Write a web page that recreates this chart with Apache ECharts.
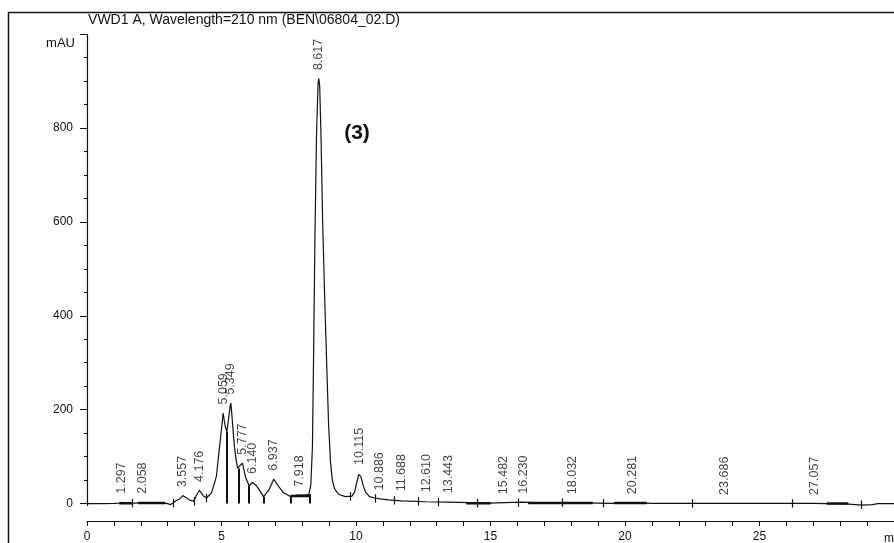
<!DOCTYPE html>
<html lang="en" style="height: 100%">
<head>
  <meta charset="utf-8">
</head>
<body style="height: 100%; margin: 0; background: #fff">
  <div id="container" style="width: 894px; height: 543px"></div>

  <script type="text/javascript" src="https://cdn.jsdelivr.net/npm/echarts@6/dist/echarts.min.js"></script>

  <script type="text/javascript">
    var dom = document.getElementById('container');
    var myChart = echarts.init(dom, null, { renderer: 'canvas' });

    // chromatogram trace, time (min) / absorbance (mAU)
    const traceT = [0, 0.5, 1.0, 1.2, 1.3, 1.4, 1.8, 2.0, 2.06, 2.2, 2.8, 3.0, 3.1, 3.2, 3.3, 3.45, 3.56, 3.65, 3.8, 3.96,
      4.08, 4.18, 4.32, 4.44, 4.63, 4.81, 4.93, 5.02, 5.06, 5.14, 5.2, 5.26, 5.32, 5.35, 5.42, 5.48, 5.54, 5.6, 5.67, 5.78,
      5.9, 6.03, 6.14, 6.27, 6.4, 6.56, 6.77, 6.94, 7.13, 7.31, 7.56, 7.8, 8.1, 8.25, 8.32, 8.38, 8.42, 8.47, 8.53, 8.59,
      8.617, 8.65, 8.70, 8.76, 8.84, 8.92, 8.98, 9.05, 9.12, 9.2, 9.35, 9.6, 9.85, 9.95, 10.03, 10.1, 10.115, 10.18, 10.25,
      10.35, 10.5, 10.7, 10.9, 11.2, 11.7, 12.6, 13.4, 14.2, 14.5, 15.0, 15.5, 16.2, 16.6, 17.5, 18.0, 19.0, 19.5, 20.3,
      21.0, 23.7, 27.0, 27.5, 28.2, 28.8, 29.2, 29.4, 30];
    const traceV = [0, 0, 0.5, 1, 3, 1.5, 1, 2, 3, 2, 1.5, 0, -2, 1, 6, 10, 17, 14, 8, 5,
      19, 28, 17, 12, 23, 58, 122, 170, 193, 164, 153, 179, 207, 214, 164, 122, 94, 75, 80, 86,
      55, 38, 45, 40, 30, 15, 30, 52, 36, 23, 15, 18, 18, 20, 40, 120, 300, 550, 780, 895,
      905, 890, 780, 600, 430, 280, 170, 90, 50, 32, 20, 15, 16, 25, 45, 62, 64, 58, 42,
      25, 15, 12, 10, 8, 6, 4, 3, 2, 1, 1, 2, 3, 2, 1.5, 2, 1, 0.5, 2,
      0.5, 0.5, 0.5, 0, -0.5, -3, -2, 0, 0];

    // labelled peaks: retention time and apex height
    const peakT = [1.297, 2.058, 3.557, 4.176, 5.059, 5.349, 5.777, 6.140, 6.937, 7.918, 8.617, 10.115,
      10.886, 11.688, 12.610, 13.443, 15.482, 16.230, 18.032, 20.281, 23.686, 27.057];
    const peakV = [3, 3, 17, 28, 193, 214, 86, 45, 52, 18, 905, 64,
      10, 8, 6, 4, 2, 3, 2, 2, 0.5, 0.5];

    // drop lines between unresolved peaks
    const dropT = [5.21, 5.64, 6.03, 6.56, 7.56, 8.27];
    const dropV = [153, 75, 38, 15, 15, 20];

    // integration event ticks
    const tickT = [1.70, 3.22, 3.98, 4.43, 9.78, 10.73, 11.43, 12.30, 13.04, 14.50, 16.04, 17.65, 19.20, 22.50, 26.20, 28.80];
    const tickV = [1, 1, 5, 12, 15, 11, 7, 5, 3, 1, 2, 2, 1, 0.5, 0.5, -2];

    // integration baselines: start, end, level
    const baseStart = [1.2, 1.9, 7.56, 14.1, 16.4, 19.6, 27.5];
    const baseEnd = [1.7, 2.9, 8.27, 15.0, 18.8, 20.8, 28.3];
    const baseLevel = [1, 1.5, 16, 1, 1.5, 1.5, 0];

    const yLabels = [0, 200, 400, 600, 800];
    const yMajor = [0, 200, 400, 600, 800, 1000];
    const yMinor = [50, 100, 150, 250, 300, 350, 450, 500, 550, 650, 700, 750, 850, 900, 950];

    const ink = '#111';
    const font = 'Liberation Sans';

    const traceData = traceT.map((t, i) => [t, traceV[i]]);

    const baseData = [];
    baseStart.forEach(function (s, i) {
      baseData.push([s, baseLevel[i]], [baseEnd[i], baseLevel[i]], [baseEnd[i], '-']);
    });

    const marks = [[{ coord: [0, -5] }, { coord: [0, 1000] }]];
    dropT.forEach(function (t, i) {
      marks.push([{ coord: [t, 0], lineStyle: { width: 2 } }, { coord: [t, dropV[i]] }]);
    });
    tickT.forEach(function (t, i) {
      marks.push([{ coord: [t, tickV[i] - 9] }, { coord: [t, tickV[i] + 9] }]);
    });

    const option = {
      backgroundColor: '#fff',
      animation: false,
      grid: { left: 87, right: -12, top: 34, bottom: 20 },
      xAxis: {
        type: 'value',
        min: 0,
        max: 30,
        interval: 5,
        axisLine: { onZero: false, lineStyle: { color: ink, width: 1 } },
        axisTick: { length: 5, lineStyle: { color: ink } },
        minorTick: { show: true, splitNumber: 5, length: 5, lineStyle: { color: ink } },
        axisLabel: { margin: 10, color: '#111', fontSize: 12, fontFamily: font, showMaxLabel: false },
        splitLine: { show: false }
      },
      yAxis: [
        {
          type: 'value',
          min: -37,
          max: 1000,
          axisLine: { show: false },
          axisTick: { show: true, length: 7, customValues: yMajor, lineStyle: { color: ink } },
          axisLabel: { margin: 14, color: '#111', fontSize: 12, fontFamily: font, customValues: yLabels },
          splitLine: { show: false }
        },
        {
          type: 'value',
          position: 'left',
          min: -37,
          max: 1000,
          axisLine: { show: false },
          axisTick: { show: true, length: 3, customValues: yMinor, lineStyle: { color: ink } },
          axisLabel: { show: false },
          splitLine: { show: false }
        }
      ],
      series: [
        {
          type: 'line',
          data: traceData,
          showSymbol: false,
          lineStyle: { color: ink, width: 1.2 },
          markLine: {
            silent: true,
            symbol: 'none',
            label: { show: false },
            lineStyle: { color: ink, width: 1.2, type: 'solid' },
            data: marks
          }
        },
        {
          type: 'line',
          data: baseData,
          showSymbol: false,
          connectNulls: false,
          lineStyle: { color: ink, width: 2.5 }
        },
        {
          type: 'scatter',
          data: peakT.map((t, i) => [t, peakV[i]]),
          symbolSize: 1,
          itemStyle: { color: 'rgba(0,0,0,0)' },
          label: {
            show: true,
            position: 'top',
            distance: 8,
            rotate: 90,
            align: 'left',
            verticalAlign: 'middle',
            color: '#111',
            fontSize: 12.5,
            fontFamily: font,
            formatter: function (p) { return p.value[0].toFixed(3); }
          }
        }
      ],
      graphic: [
        {
          type: 'rect',
          shape: { x: 8.5, y: 12.5, width: 900, height: 540 },
          style: { fill: 'none', stroke: ink, lineWidth: 1.5 }
        },
        {
          type: 'text', x: 244, y: 20,
          style: { text: 'VWD1 A, Wavelength=210 nm (BEN\\06804_02.D)', font: '14px "Liberation Sans"', fill: '#111', align: 'center', verticalAlign: 'middle' }
        },
        {
          type: 'text', x: 75, y: 43,
          style: { text: 'mAU', font: '13px "Liberation Sans"', fill: '#111', align: 'right', verticalAlign: 'middle' }
        },
        {
          type: 'text', x: 884, y: 539,
          style: { text: 'min', font: '12px "Liberation Sans"', fill: '#111', align: 'left', verticalAlign: 'middle' }
        },
        {
          type: 'text', x: 357, y: 133,
          style: { text: '(3)', font: 'bold 21px "Liberation Sans"', fill: '#111', align: 'center', verticalAlign: 'middle' }
        }
      ]
    };

    myChart.setOption(option);
    window.addEventListener('resize', myChart.resize);
  </script>
</body>
</html>
